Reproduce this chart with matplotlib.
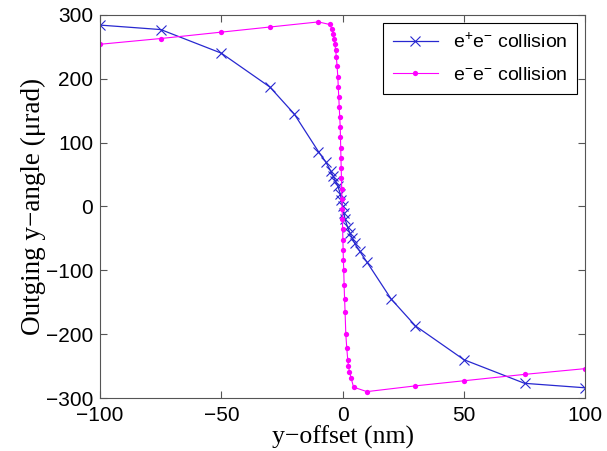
import numpy as np
import matplotlib
matplotlib.use("Agg")
import matplotlib.pyplot as plt

# e+e- collision (blue crosses)
pos_x = [-100, -75, -50, -30, -20, -10, -7, -5, -4, -3, -2, -1, -0.5, 0,
         0.5, 1, 2, 3, 4, 5, 7, 10, 20, 30, 50, 75, 100]
pos_y = [284, 277, 240, 187, 145, 86, 70, 56, 48, 40, 32, 20, 10, 0,
         -10, -20, -32, -42, -50, -58, -70, -87, -145, -187, -240, -277, -284]

# e-e- collision (magenta dots)
neg_x = [-100, -75, -50, -30, -10, -5.4, -4.4, -3.9, -3.5, -3.2, -2.9, -2.6, -2.3,
         -2.0, -1.8, -1.6, -1.4, -1.2, -1.0, -0.9, -0.8, -0.7, -0.6, -0.5, -0.4,
         -0.3, -0.2, -0.1, 0.0, 0.1, 0.2, 0.3, 0.45, 0.6, 0.8, 1.0, 1.3, 1.7,
         2.1, 2.4, 2.8, 3.5, 4.5, 10, 30, 50, 75, 100]
neg_y = [254, 263, 273, 281, 289, 285, 278, 270, 262, 254, 245, 234, 220,
         203, 187, 171, 155, 140, 124, 108, 92, 76, 60, 44, 28,
         12, -4, -20, -36, -52, -68, -84, -100, -123, -145, -165, -200, -222,
         -240, -250, -259, -269, -283, -290, -281, -273, -263, -254]

plt.rcParams["mathtext.fontset"] = "custom"
plt.rcParams["mathtext.rm"] = "Liberation Sans"
plt.rcParams["mathtext.it"] = "Liberation Sans"

fig = plt.figure(figsize=(6.07, 4.51), dpi=100)
ax = fig.add_axes([0.165, 0.1175, 0.799, 0.8495])

ax.plot(pos_x, pos_y, color="#2828d0", lw=0.9, marker="x", ms=7.5, mew=0.8,
        label=r"e$^{+}$e$^{-}$ collision")
ax.plot(neg_x, neg_y, color="#ff00ff", lw=0.8, marker="o", ms=3.8, mew=0,
        label=r"e$^{-}$e$^{-}$ collision")

ax.set_xlim(-100, 100)
ax.set_ylim(-300, 300)
ax.set_xticks([-100, -50, 0, 50, 100])
ax.set_yticks([-300, -200, -100, 0, 100, 200, 300])
ax.tick_params(direction="in", top=True, right=True, labelsize=15, length=5,
               color="#555555")
ax.tick_params(axis="x", pad=6)
ax.tick_params(axis="y", pad=5)
for lab in ax.get_xticklabels() + ax.get_yticklabels():
    lab.set_family("Liberation Sans")
for s in ax.spines.values():
    s.set_color("#555555")

ax.set_xlabel("y\u2212offset (nm)", family="Liberation Serif", fontsize=18.5, labelpad=0)
ax.set_ylabel("Outging y\u2212angle (\u03bcrad)", family="Liberation Serif", fontsize=19.5, labelpad=0)

leg = ax.legend(loc="upper right", prop={"family": "Liberation Sans", "size": 14},
                fancybox=False, framealpha=1, edgecolor="black",
                borderaxespad=0.4, borderpad=0.5, handlelength=2.3,
                labelspacing=0.75)
leg.get_frame().set_linewidth(0.8)

fig.savefig("out.png", dpi=100)
